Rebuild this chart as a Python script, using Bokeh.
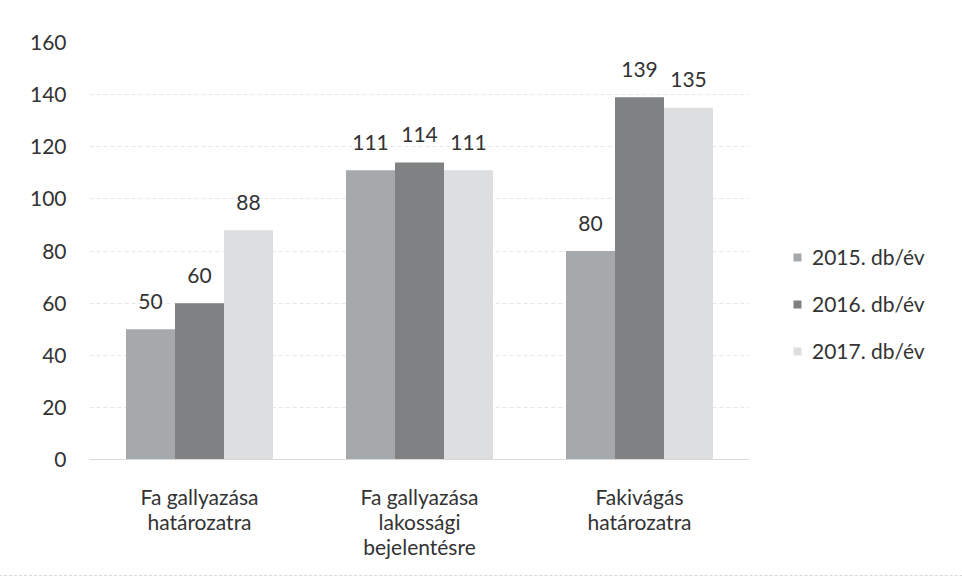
from bokeh.plotting import figure
from bokeh.models import ColumnDataSource, FactorRange, Legend, LegendItem
from bokeh.transform import dodge
from bokeh.embed import file_html
from bokeh.resources import INLINE
from bokeh.core.properties import value

categories = ["Fa gallyazása\nhatározatra", "Fa gallyazása\nlakossági\nbejelentésre", "Fakivágás\nhatározatra"]
series_names = ["2015. db/év", "2016. db/év", "2017. db/év"]
v2015 = [50, 111, 80]
v2016 = [60, 114, 139]
v2017 = [88, 111, 135]
y_ticks = [0, 20, 40, 60, 80, 100, 120, 140, 160]

colors = ["#a6a9ab", "#7f8182", "#dcdee0"]
FONT = "Lato"
TXT = "#333333"

src = ColumnDataSource(dict(cat=categories, v2015=v2015, v2016=v2016, v2017=v2017,
                            l2015=[str(v) for v in v2015], l2016=[str(v) for v in v2016],
                            l2017=[str(v) for v in v2017]))

p = figure(x_range=FactorRange(*categories), y_range=(0, 160),
           frame_width=660, frame_height=417,
           output_backend="svg", toolbar_location=None,
           min_border_left=89, min_border_right=190, min_border_top=42, min_border_bottom=116)
p.styles = {"outline": "1px dashed #d8d8d8"}
p.outline_line_color = None
p.background_fill_color = "white"
p.border_fill_color = "white"

bw = 0.2227
offsets = [-bw, 0.0, bw]
keys = ["2015", "2016", "2017"]
renderers = []
for k, off, c in zip(keys, offsets, colors):
    r = p.vbar(x=dodge("cat", off, range=p.x_range), top="v" + k, width=bw, source=src,
               fill_color=c, line_color=None)
    renderers.append(r)
    p.text(x=dodge("cat", off, range=p.x_range), y="v" + k, text="l" + k, source=src,
           text_align="center", text_baseline="alphabetic", y_offset=-28,
           text_font=value(FONT), text_font_size="21px", text_color=TXT)

p.yaxis.ticker = y_ticks
p.ygrid.grid_line_color = "#e6e6e6"
p.ygrid.grid_line_dash = "4 3"
p.xgrid.grid_line_color = None

p.yaxis.axis_line_color = None
p.yaxis.major_tick_line_color = None
p.yaxis.minor_tick_line_color = None
p.yaxis.major_label_standoff = 17
p.yaxis.major_label_text_font = FONT
p.yaxis.major_label_text_font_size = "21px"
p.yaxis.major_label_text_color = TXT

p.xaxis.axis_line_color = "#d9d9d9"
p.xaxis.major_tick_line_color = None
p.xaxis.minor_tick_line_color = None
p.xaxis.major_label_standoff = 18
p.xaxis.major_label_text_font = FONT
p.xaxis.major_label_text_font_size = "21px"
p.xaxis.major_label_text_color = TXT
p.xaxis.major_label_text_line_height = 1.0

legend = Legend(items=[LegendItem(label=n, renderers=[r]) for n, r in zip(series_names, renderers)],
                location=(43, 96), border_line_color=None, background_fill_alpha=0,
                label_text_font=FONT, label_text_font_size="21px", label_text_color=TXT,
                glyph_width=10, glyph_height=10, spacing=22, label_standoff=10, padding=0, margin=0)
p.add_layout(legend, "right")

open("out.html", "w").write(file_html(p, INLINE))
